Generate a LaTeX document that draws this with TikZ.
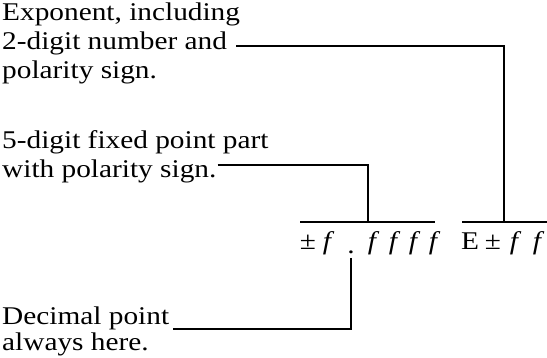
\documentclass[tikz,border=0pt]{standalone}
\usepackage{fontspec}
\setmainfont{Liberation Serif}[FakeStretch=1.15]
\begin{document}
\begin{tikzpicture}[x=1pt,y=-1pt,
  lbl/.style={anchor=base west,inner sep=0pt,font=\fontsize{25.5}{29}\selectfont},
  gl/.style={anchor=base,inner sep=0pt,font=\fontsize{25.5}{29}\selectfont},
  conn/.style={line width=1.8pt},
  barline/.style={line width=2.2pt}]
\useasboundingbox (0,0) rectangle (547,358);
% labels
\node[lbl] (e1) at (2,21) {Exponent, including};
\node[lbl] (e2) at (2,50) {2-digit number and};
\node[lbl] (e3) at (2,79) {polarity sign.};
\node[lbl] (p1) at (2,149) {5-digit fixed point part};
\node[lbl] (p2) at (2,178) {with polarity sign.};
\node[lbl] (d1) at (2,325) {Decimal point};
\node[lbl] (d2) at (2,351) {always here.};
% formula glyphs
\node[gl] (pm1) at (308,250) {±};
\node[gl] (f1) at (327,250) {\itshape f};
\node[gl] (dot) at (351,254) {.};
\node[gl] (f2) at (372,250) {\itshape f};
\node[gl] (f3) at (393,250) {\itshape f};
\node[gl] (f4) at (413,250) {\itshape f};
\node[gl] (f5) at (433,250) {\itshape f};
\node[gl] (E) at (470,250) {E};
\node[gl] (pm2) at (493,250) {±};
\node[gl] (f6) at (514,250) {\itshape f};
\node[gl] (f7) at (537,250) {\itshape f};
% bars
\coordinate (bL1) at (300,222);
\coordinate (bL2) at (435,222);
\coordinate (bR1) at (462,222);
\coordinate (bR2) at (547,222);
\coordinate (fixT) at (368,222);
\coordinate (expT) at (504,222);
\draw[barline] (bL1) -- (bL2);
\draw[barline] (bR1) -- (bR2);
% connectors
\draw[conn] ([xshift=9pt,yshift=4pt]e2.base east) -| (expT);
\draw[conn] ([xshift=1pt,yshift=13pt]p2.base east) -| (fixT);
\draw[conn] ([yshift=-4pt]dot.base) |- ([xshift=4pt,yshift=-4pt]d1.base east);
\end{tikzpicture}
\end{document}
